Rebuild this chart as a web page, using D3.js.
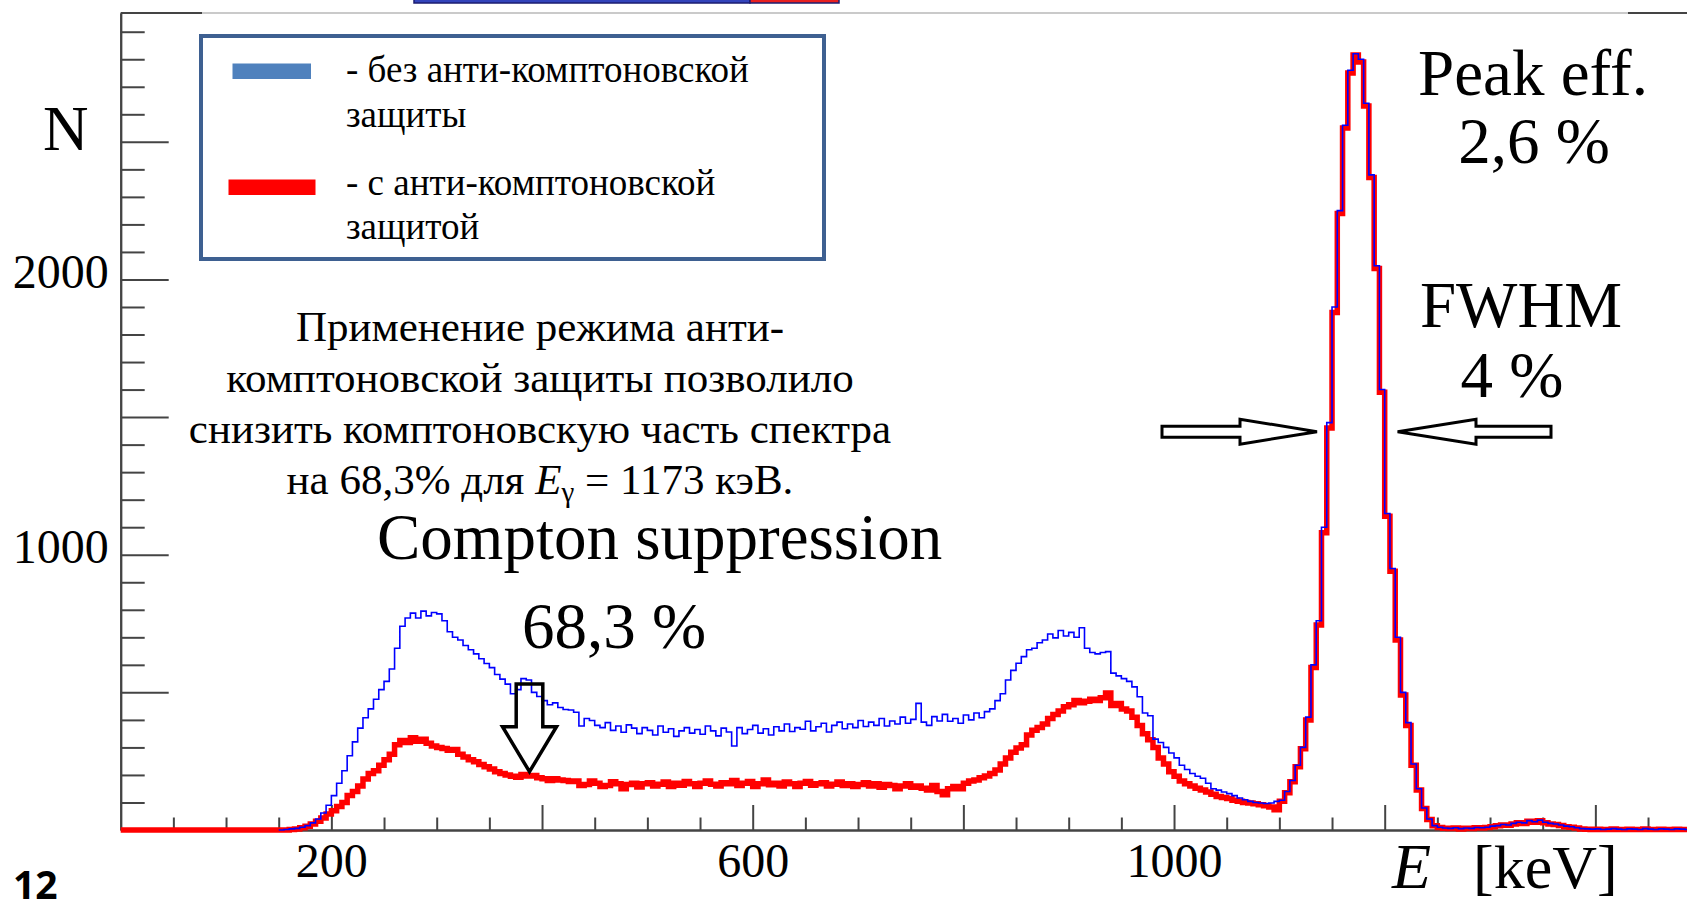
<!DOCTYPE html>
<html>
<head>
<meta charset="utf-8">
<script src="https://cdn.jsdelivr.net/npm/d3@7"></script>
<style>
  body { margin: 0; background: #fff; }
  svg text { font-family: "Liberation Serif", "Times New Roman", serif; fill: #000; }
</style>
</head>
<body>
<div class="chart"></div>
<script>
var svgWidth = 1687;
var svgHeight = 907;

// spectrum bins: 5 keV wide, first bin starts at 150 keV
var binStart = 150;
var binWidth = 5;

// counts without anti-Compton shield (blue)
var noVeto = [
  0, 2, 4, 6, 10, 16, 26, 40, 62, 90, 125, 170, 215, 270, 320, 370, 408, 440, 475, 510,
  540, 585, 660, 740, 770, 788, 770, 795, 778, 790, 785, 760, 720, 700, 690, 670, 655, 640, 622, 605,
  590, 565, 548, 530, 495, 510, 550, 545, 500, 485, 470, 455, 462, 445, 438, 436, 428, 378, 405, 398,
  380, 372, 390, 362, 378, 355, 382, 370, 350, 372, 362, 345, 378, 355, 368, 340, 360, 372, 352, 365,
  348, 378, 360, 342, 370, 356, 305, 372, 350, 365, 380, 352, 368, 345, 375, 360, 385, 358, 372, 366,
  395, 360, 375, 388, 356, 380, 392, 368, 385, 372, 398, 376, 392, 380, 405, 378, 396, 385, 410, 388,
  402, 460, 392, 380, 412, 396, 420, 395, 405, 388, 418, 400, 425, 408, 430, 440, 470, 495, 545, 580,
  606, 630, 655, 660, 680, 690, 712, 698, 725, 705, 718, 700, 735, 660, 645, 640, 645, 648, 570, 560,
  550, 540, 520, 484, 425, 415, 330, 318, 300, 280, 262, 235, 220, 205, 195, 188, 170, 150, 145, 138,
  132, 125, 116, 110, 104, 100, 98, 96, 98, 104, 108, 140, 180, 235, 300, 410, 600, 760, 1100, 1480,
  1900, 2250, 2560, 2760, 2820, 2800, 2640, 2380, 2050, 1600, 1150, 950, 700, 500, 390, 240, 150, 80, 40, 16,
  10, 7, 6, 8, 5, 7, 6, 9, 8, 10, 14, 16, 20, 18, 24, 28, 26, 34, 30, 36,
  28, 24, 22, 18, 14, 12, 8, 5, 4, 3, 4, 2, 3, 5, 3, 2, 4, 3, 2, 5,
  3, 2, 4, 3, 2, 4, 3, 2
];

// counts with anti-Compton shield (red)
var withVeto = [
  0, 0, 2, 4, 8, 14, 22, 32, 44, 58, 70, 85, 100, 125, 140, 160, 185, 205, 215, 235,
  255, 275, 310, 325, 318, 335, 322, 330, 315, 305, 300, 296, 290, 292, 275, 265, 255, 248, 238, 230,
  222, 212, 205, 200, 195, 192, 202, 196, 198, 190, 186, 180, 186, 182, 180, 176, 178, 162, 165, 178,
  170, 158, 162, 175, 168, 150, 165, 170, 156, 168, 172, 160, 166, 174, 158, 170, 163, 176, 168, 158,
  170, 178, 166, 160, 172, 168, 180, 162, 170, 176, 158, 168, 182, 164, 170, 160, 174, 168, 158, 170,
  176, 163, 168, 172, 160, 166, 174, 162, 168, 158, 165, 172, 160, 168, 155, 165, 162, 150, 160, 168,
  155, 160, 152, 145, 162, 140, 128, 150, 158, 150, 170, 178, 182, 190, 196, 205, 218, 240, 262, 282,
  298, 310, 345, 362, 372, 385, 405, 420, 432, 448, 455, 470, 462, 468, 475, 470, 480, 498, 452, 460,
  440, 432, 410, 380, 350, 328, 300, 262, 240, 212, 195, 178, 168, 160, 152, 145, 138, 130, 122, 118,
  114, 108, 104, 100, 98, 95, 92, 88, 84, 74, 104, 135, 175, 230, 295, 400, 590, 745, 1080, 1460,
  1880, 2240, 2550, 2750, 2815, 2790, 2630, 2370, 2040, 1590, 1140, 940, 690, 490, 380, 235, 145, 78, 38, 15,
  9, 6, 5, 7, 4, 6, 5, 8, 7, 9, 12, 15, 18, 17, 22, 26, 24, 32, 28, 34,
  26, 22, 20, 16, 12, 10, 7, 4, 3, 2, 3, 2, 2, 4, 2, 2, 3, 2, 2, 4,
  2, 2, 3, 2, 2, 3, 2, 2
];

var xMajorTicks = [200, 400, 600, 800, 1000, 1200, 1400];
var xLabels = [200, 600, 1000];
var yMajorTicks = [500, 1000, 1500, 2000, 2500];
var yLabels = [1000, 2000];

var legendLabels = [
  ["- без анти-комптоновской", "защиты"],
  ["- с анти-комптоновской", "защитой"]
];
var noteLines = [
  "Применение режима анти-",
  "комптоновской защиты позволило",
  "снизить комптоновскую часть спектра"
];

var svg = d3.select(".chart")
  .append("svg")
  .attr("width", svgWidth)
  .attr("height", svgHeight);

var x = d3.scaleLinear().domain([0, 1487]).range([120.7, 1687]);
var y = d3.scaleLinear().domain([0, 2968]).range([830, 13]);

// fragment of an element cut off at the top of the slide
svg.append("rect").attr("x", 414).attr("y", -3).attr("width", 336).attr("height", 6)
  .attr("fill", "#3344bb").attr("stroke", "#1c1c70").attr("stroke-width", 1.5);
svg.append("rect").attr("x", 750).attr("y", -3).attr("width", 89).attr("height", 6)
  .attr("fill", "#e82020").attr("stroke", "#1c1c70").attr("stroke-width", 1.5);

// top frame
svg.append("line").attr("x1", x(0)).attr("x2", 1687).attr("y1", y(2968)).attr("y2", y(2968))
  .attr("stroke", "#b8b8b8").attr("stroke-width", 1.5);
svg.append("line").attr("x1", x(0)).attr("x2", 202).attr("y1", y(2968)).attr("y2", y(2968))
  .attr("stroke", "#444").attr("stroke-width", 2);
svg.append("line").attr("x1", 1628).attr("x2", 1687).attr("y1", y(2968)).attr("y2", y(2968))
  .attr("stroke", "#444").attr("stroke-width", 2);

// axes
var xMinor = d3.range(50, 1487, 50).filter(function(d) { return xMajorTicks.indexOf(d) < 0; });
var yMinor = d3.range(100, 2968, 100).filter(function(d) { return yMajorTicks.indexOf(d) < 0; });

function styleAxis(g) {
  g.attr("color", "#444");
  g.selectAll("path, line").attr("stroke-width", 2);
}

svg.append("g")
  .attr("transform", "translate(0," + y(0) + ")")
  .call(d3.axisBottom(x).tickValues(xMinor).tickSize(-12.5).tickSizeOuter(0).tickFormat(""))
  .call(styleAxis);

svg.append("g")
  .attr("transform", "translate(0," + y(0) + ")")
  .call(d3.axisBottom(x).tickValues(xMajorTicks).tickSize(-25).tickSizeOuter(0).tickPadding(12.6)
    .tickFormat(function(d) { return xLabels.indexOf(d) >= 0 ? d : ""; }))
  .call(styleAxis)
  .call(function(g) {
    g.selectAll("text").attr("font-size", 48).attr("fill", "#000");
  });

svg.append("g")
  .attr("transform", "translate(" + x(0) + ",0)")
  .call(d3.axisLeft(y).tickValues(yMinor).tickSize(-24).tickSizeOuter(0).tickFormat(""))
  .call(styleAxis);

svg.append("g")
  .attr("transform", "translate(" + x(0) + ",0)")
  .call(d3.axisLeft(y).tickValues(yMajorTicks).tickSize(-48).tickSizeOuter(0).tickPadding(12)
    .tickFormat(function(d) { return yLabels.indexOf(d) >= 0 ? d : ""; }))
  .call(styleAxis)
  .call(function(g) {
    g.selectAll("text").attr("font-size", 48).attr("dy", "0.17em").attr("fill", "#000");
  });

// histograms as step lines
function toSteps(counts, fromZero) {
  var pts = counts.map(function(c, i) { return [binStart + i * binWidth, c]; });
  pts.push([binStart + counts.length * binWidth, counts[counts.length - 1]]);
  if (fromZero) pts.unshift([0, 0]);
  return pts;
}

var stepLine = d3.line()
  .x(function(d) { return x(d[0]); })
  .y(function(d) { return y(d[1]); })
  .curve(d3.curveStepAfter);

svg.append("path")
  .datum(toSteps(withVeto, true))
  .attr("d", stepLine)
  .attr("fill", "none")
  .attr("stroke", "#ff0000")
  .attr("stroke-width", 5.5);

svg.append("path")
  .datum(toSteps(noVeto, false))
  .attr("d", stepLine)
  .attr("fill", "none")
  .attr("stroke", "#0000ff")
  .attr("stroke-width", 1.6);

// axis titles
svg.append("text").attr("x", 43).attr("y", 150).attr("font-size", 63).text("N");
svg.append("text").attr("x", 1392).attr("y", 888).attr("font-size", 64)
  .attr("font-style", "italic").text("E");
svg.append("text").attr("x", 1473).attr("y", 888).attr("font-size", 62).text("[keV]");

// legend
var legend = svg.append("g");
legend.append("rect").attr("x", 201).attr("y", 36).attr("width", 623).attr("height", 223)
  .attr("fill", "#fff").attr("stroke", "#3e6091").attr("stroke-width", 4);
legend.append("rect").attr("x", 232.5).attr("y", 63.5).attr("width", 78.5).attr("height", 15.5)
  .attr("fill", "#4f81bd");
legend.append("rect").attr("x", 228.5).attr("y", 179.5).attr("width", 87).attr("height", 15.5)
  .attr("fill", "#ff0000");
legendLabels.forEach(function(lines, i) {
  lines.forEach(function(t, j) {
    legend.append("text")
      .attr("x", 346)
      .attr("y", 82 + i * 112.5 + j * 44.5)
      .attr("font-size", 37)
      .text(t);
  });
});

// explanatory note
noteLines.forEach(function(t, i) {
  svg.append("text").attr("x", 540).attr("y", 341 + i * 51)
    .attr("text-anchor", "middle").attr("font-size", 43).text(t);
});
var last = svg.append("text").attr("x", 540).attr("y", 494)
  .attr("text-anchor", "middle").attr("font-size", 43);
last.append("tspan").text("на 68,3% для ");
last.append("tspan").attr("font-style", "italic").text("E");
last.append("tspan").attr("font-size", 29).attr("dy", 8).text("γ");
last.append("tspan").attr("dy", -8).text(" = 1173 кэВ.");

// big annotations
svg.append("text").attr("x", 377).attr("y", 559).attr("font-size", 65).text("Compton suppression");
svg.append("text").attr("x", 522).attr("y", 648).attr("font-size", 65).text("68,3 %");
svg.append("text").attr("x", 1533).attr("y", 95).attr("text-anchor", "middle")
  .attr("font-size", 65).text("Peak eff.");
svg.append("text").attr("x", 1534).attr("y", 163).attr("text-anchor", "middle")
  .attr("font-size", 65).text("2,6 %");
svg.append("text").attr("x", 1521).attr("y", 327).attr("text-anchor", "middle")
  .attr("font-size", 65).text("FWHM");
svg.append("text").attr("x", 1512).attr("y", 397).attr("text-anchor", "middle")
  .attr("font-size", 65).text("4 %");

// outlined arrows
function hArrow(tail, base, tip, cy, sh, hh) {
  return "M" + tail + "," + (cy - sh) + "L" + base + "," + (cy - sh) + "L" + base + "," + (cy - hh) +
    "L" + tip + "," + cy + "L" + base + "," + (cy + hh) + "L" + base + "," + (cy + sh) +
    "L" + tail + "," + (cy + sh) + "Z";
}
function vArrow(tail, base, tip, cx, sw, hw) {
  return "M" + (cx - sw) + "," + tail + "L" + (cx - sw) + "," + base + "L" + (cx - hw) + "," + base +
    "L" + cx + "," + tip + "L" + (cx + hw) + "," + base + "L" + (cx + sw) + "," + base +
    "L" + (cx + sw) + "," + tail + "Z";
}
svg.append("path").attr("d", hArrow(1162, 1240, 1317, 431.7, 5.5, 12.5))
  .attr("fill", "#fff").attr("stroke", "#000").attr("stroke-width", 3);
svg.append("path").attr("d", hArrow(1551, 1476, 1397.6, 431.7, 5.5, 12.5))
  .attr("fill", "#fff").attr("stroke", "#000").attr("stroke-width", 3);
svg.append("path").attr("d", vArrow(684, 726.7, 771.7, 529.5, 13.3, 27))
  .attr("fill", "none").attr("stroke", "#000").attr("stroke-width", 3.5);

// slide number (sans-serif, set as style so it beats the stylesheet rule)
svg.append("text").attr("x", 13).attr("y", 899)
  .style("font-family", "'Open Sans', 'Liberation Sans', sans-serif")
  .attr("font-weight", 700).attr("font-size", 39).text("12");
</script>
</body>
</html>
